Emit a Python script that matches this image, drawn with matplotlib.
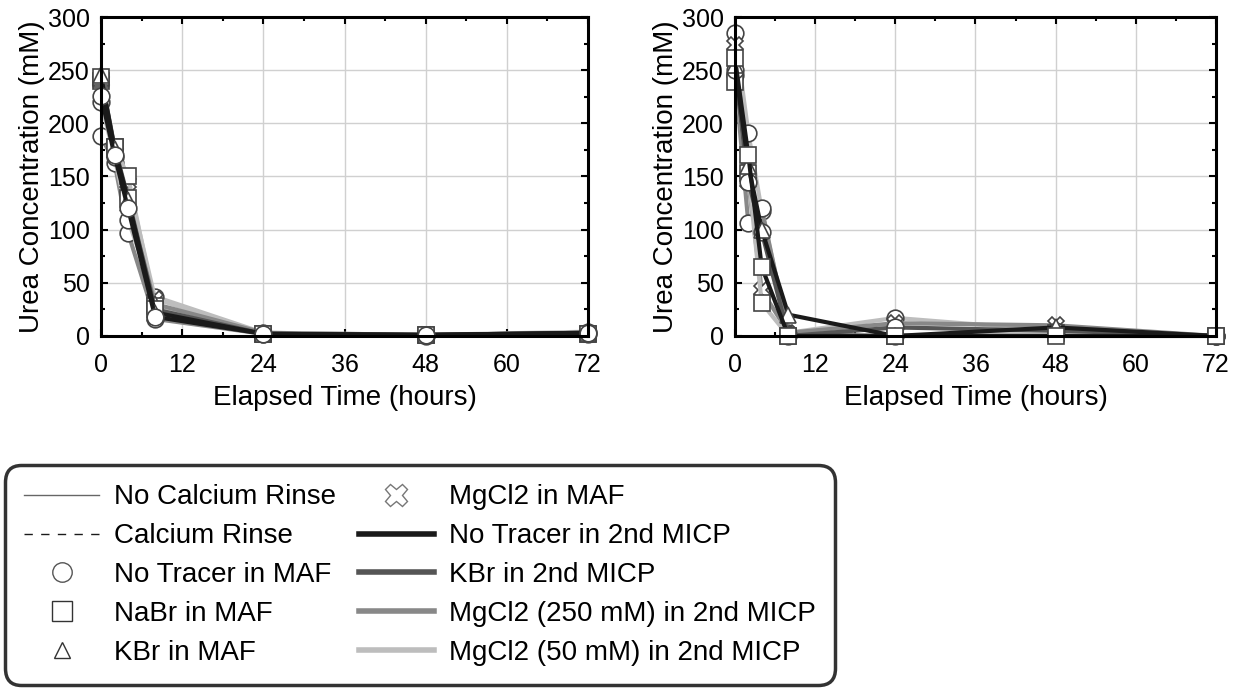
import matplotlib.pyplot as plt
from matplotlib.lines import Line2D
from matplotlib.ticker import MultipleLocator

plt.rcParams['font.family'] = ['Liberation Sans', 'DejaVu Sans']

# Zeitpunkte (Stunden)
hours = [0, 2, 4, 8, 24, 48, 72]

# linkes Diagramm: Harnstoff (mM)
left_circle_a = [226, 170, 120, 18, 2, 1, 3]
left_square_a = [244, 178, 130, 25, 2, 1, 2]
left_triangle_a = [242, 175, 125, 30, 3, 1, 3]
left_x_a = [240, 172, 144, 35, 2, 1, 2]
left_circle_b = [188, 163, 97, 16, 2, 0, 2]
left_circle_c = [220, 168, 109, 37, 3, 1, 4]
left_square_b = [240, 178, 150, 28, 2, 1, 2]
left_triangle_b = [245, 176, 128, 22, 2, 1, 3]

# rechtes Diagramm
right_circle_a = [285, 191, 118, 3, 17, 5, 0]
right_square_a = [261, 170, 65, 0, 0, 0, 0]
right_square_b = [239, 153, 31, 0, 0, 3, 0]
right_x_a = [274, 145, 43, 3, 12, 10, 0]
right_circle_b = [250, 145, 98, 0, 8, 5, 0]
right_circle_c = [245, 106, 120, 2, 0, 3, 0]
right_triangle_a = [255, 160, 100, 20, 0, 8, 0]

BLACK = '#1a1a1a'
DARK = '#555555'
MID = '#888888'
LIGHT = '#bdbdbd'

left_series = [
    (left_circle_b, 'o', MID),
    (left_circle_c, 'o', LIGHT),
    (left_x_a, 'X', LIGHT),
    (left_square_b, 's', LIGHT),
    (left_triangle_a, '^', MID),
    (left_square_a, 's', DARK),
    (left_triangle_b, '^', BLACK),
    (left_circle_a, 'o', BLACK),
]
right_series = [
    (right_circle_a, 'o', LIGHT),
    (right_x_a, 'X', MID),
    (right_circle_c, 'o', MID),
    (right_square_b, 's', LIGHT),
    (right_circle_b, 'o', DARK),
    (right_triangle_a, '^', BLACK),
    (right_square_a, 's', BLACK),
]

fig = plt.figure(figsize=(12.39, 6.92), dpi=100)
ax1 = fig.add_axes([0.0815, 0.5145, 0.3931, 0.4609])
ax2 = fig.add_axes([0.5932, 0.5145, 0.3882, 0.4609])

for ax, series in [(ax1, left_series), (ax2, right_series)]:
    for vals, mk, col in series:
        ax.plot(hours, vals, color=col, lw=3, marker=mk, ms=12,
                mfc='white', mec='#444444', mew=1.2, clip_on=False)
    ax.set_xlim(0, 72)
    ax.set_ylim(0, 300)
    ax.xaxis.set_major_locator(MultipleLocator(12))
    ax.xaxis.set_minor_locator(MultipleLocator(6))
    ax.yaxis.set_major_locator(MultipleLocator(50))
    ax.yaxis.set_minor_locator(MultipleLocator(25))
    ax.tick_params(which='both', direction='in', top=True, right=True,
                   width=1.5, labelsize=18)
    ax.tick_params(which='major', length=5)
    ax.tick_params(which='minor', length=3)
    ax.tick_params(axis='x', which='major', pad=12)
    ax.tick_params(axis='y', which='major', pad=8)
    ax.grid(True, color='#d0d0d0', lw=1)
    ax.set_axisbelow(True)
    for sp in ax.spines.values():
        sp.set_linewidth(2.2)
    ax.set_xlabel('Elapsed Time (hours)', fontsize=20, labelpad=6)
    ax.set_ylabel('Urea Concentration (mM)', fontsize=20, labelpad=2)

handles = [
    Line2D([], [], color='#666666', lw=1),
    Line2D([], [], color=BLACK, lw=1, ls=(0, (6, 6))),
    Line2D([], [], ls='none', marker='o', ms=14, mfc='white', mec='#555555'),
    Line2D([], [], ls='none', marker='s', ms=14, mfc='white', mec='#333333'),
    Line2D([], [], ls='none', marker='^', ms=12, mfc='white', mec='#333333'),
    Line2D([], [], ls='none', marker='X', ms=16, mfc='white', mec='#777777'),
    Line2D([], [], color=BLACK, lw=4),
    Line2D([], [], color=DARK, lw=4),
    Line2D([], [], color=MID, lw=4),
    Line2D([], [], color=LIGHT, lw=4),
]
labels = ['No Calcium Rinse', 'Calcium Rinse', 'No Tracer in MAF',
          'NaBr in MAF', 'KBr in MAF', 'MgCl2 in MAF',
          'No Tracer in 2nd MICP', 'KBr in 2nd MICP',
          'MgCl2 (250 mM) in 2nd MICP', 'MgCl2 (50 mM) in 2nd MICP']

leg = fig.legend(handles, labels, ncol=2, loc='upper left',
                 bbox_to_anchor=(-0.003, 0.34), fontsize=20,
                 handlelength=2.7, handletextpad=0.55, columnspacing=0.8,
                 labelspacing=0.46, borderpad=0.5, fancybox=True,
                 frameon=True)
frame = leg.get_frame()
frame.set_edgecolor('black')
frame.set_linewidth(2.5)
frame.set_boxstyle('round,pad=0.2,rounding_size=0.6')

fig.savefig('out.png', dpi=100)
